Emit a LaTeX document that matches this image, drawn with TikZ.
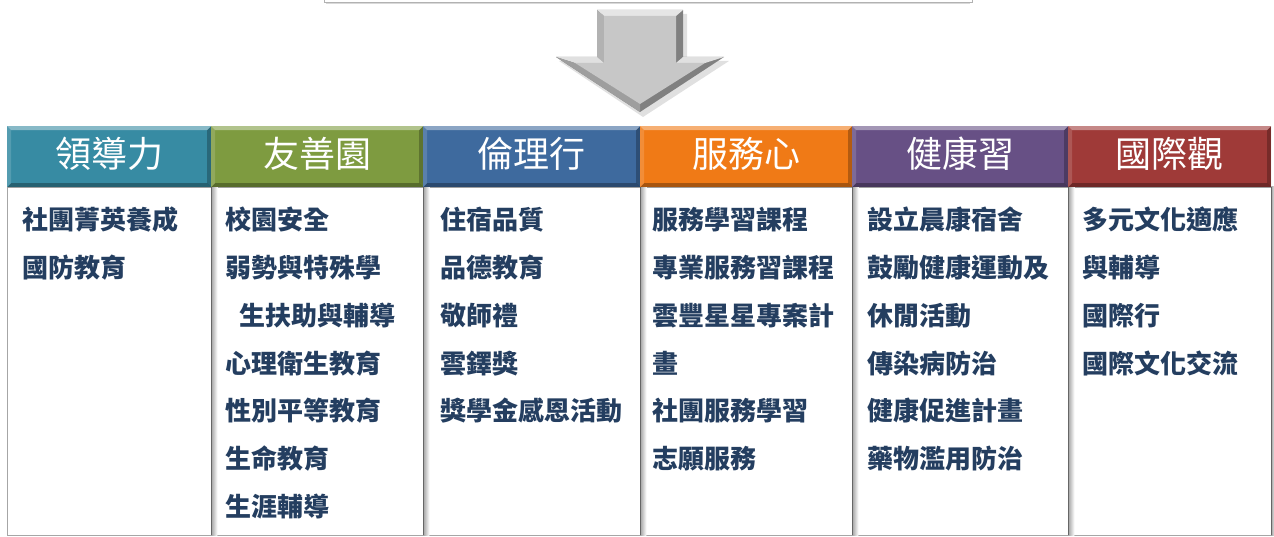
\documentclass[tikz,border=0pt]{standalone}
\usepackage{fontspec}
\newfontfamily\cjk{Noto Sans CJK TC}
\usetikzlibrary{positioning}

\definecolor{lead}{RGB}{55,139,163}
\definecolor{friend}{RGB}{126,155,64}
\definecolor{ethic}{RGB}{62,106,158}
\definecolor{serve}{RGB}{240,122,22}
\definecolor{health}{RGB}{103,80,133}
\definecolor{intl}{RGB}{159,58,56}
\definecolor{ink}{RGB}{36,62,96}

\tikzset{
  hdr/.style 2 args={fill=#2, minimum width=#1, minimum height=61, inner sep=0,
    anchor=north west, text=white, text height=29, text depth=7,
    font=\cjk\fontsize{36}{40}\selectfont,
    path picture={
      \coordinate (nw) at (path picture bounding box.north west);
      \coordinate (se) at (path picture bounding box.south east);
      \fill[white,opacity=.4] (nw) -- (nw -| se) -- ([shift={(-4,4)}]nw -| se) -- ([shift={(4,4)}]nw) -- cycle;
      \fill[white,opacity=.15] (nw) -- (se -| nw) -- ([shift={(4,-4)}]se -| nw) -- ([shift={(4,4)}]nw) -- cycle;
      \fill[black,opacity=.25] (se) -- (se |- nw) -- ([shift={(-4,4)}]se |- nw) -- ([shift={(-4,-4)}]se) -- cycle;
      \fill[black,opacity=.3] (se) -- (se -| nw) -- ([shift={(4,-4)}]se -| nw) -- ([shift={(-4,-4)}]se) -- cycle;
    }},
  col/.style={fill=white, draw=black!35, minimum width=#1, minimum height=348,
    inner sep=0, anchor=north west},
  sep/.style={draw=black!60, line width=1.3pt},
  entry/.style={anchor=base west, inner sep=0, text=ink,
    font=\cjk\bfseries\fontsize{26}{30}\selectfont}
}

\begin{document}
\begin{tikzpicture}[x=1pt, y=-1pt]
  \useasboundingbox (0,0) rectangle (1274,537);

  % box above the arrow
  \fill[black!15] (326,1) rectangle (970,4.5);
  \filldraw[fill=white, draw=black!30] (324,-10) rectangle (972,2);

  % arrow
  \fill[black,opacity=.12] (600,14) -- (687,14) -- (687,61) -- (729,61) -- (643,117) -- (559,61) -- (600,61) -- cycle;
  \fill[black!50] (597,10) -- (683,10) -- (683,57) -- (724,57) -- (640,112) -- (556,57) -- (597,57) -- cycle;
  \fill[black!10] (597,10) -- (683,10) -- (676,16) -- (604,16) -- cycle;
  \fill[black!30] (597,10) -- (604,16) -- (604,63) -- (597,57) -- cycle;
  \fill[black!12] (597,57) -- (604,63) -- (575,63) -- (556,57) -- cycle;
  \fill[black!12] (683,57) -- (724,57) -- (705,63) -- (676,63) -- cycle;
  \fill[black!38] (556,57) -- (575,63) -- (640,104) -- (640,112) -- cycle;
  \fill[black!22] (604,16) -- (676,16) -- (676,63) -- (705,63) -- (640,104) -- (575,63) -- (604,63) -- cycle;

  % column bodies
  \node[col=204] (leadcol) at (7,187) {};
  \node[col=212] (friendcol) at (211,187) {};
  \node[col=217] (ethiccol) at (423,187) {};
  \node[col=212] (servecol) at (640,187) {};
  \node[col=216] (healthcol) at (852,187) {};
  \node[col=203] (intlcol) at (1068,187) {};

  % separators with soft shadow
  \shade[left color=black!35, right color=white] (leadcol.north east) rectangle ([xshift=6pt]leadcol.south east);
  \shade[left color=black!35, right color=white] (friendcol.north east) rectangle ([xshift=6pt]friendcol.south east);
  \shade[left color=black!35, right color=white] (ethiccol.north east) rectangle ([xshift=6pt]ethiccol.south east);
  \shade[left color=black!35, right color=white] (servecol.north east) rectangle ([xshift=6pt]servecol.south east);
  \shade[left color=black!35, right color=white] (healthcol.north east) rectangle ([xshift=6pt]healthcol.south east);
  \shade[left color=black!35, right color=white] (intlcol.north east) rectangle ([xshift=4pt]intlcol.south east);
  \draw[sep] (leadcol.north east) -- (leadcol.south east);
  \draw[sep] (friendcol.north east) -- (friendcol.south east);
  \draw[sep] (ethiccol.north east) -- (ethiccol.south east);
  \draw[sep] (servecol.north east) -- (servecol.south east);
  \draw[sep] (healthcol.north east) -- (healthcol.south east);
  \draw[sep] (intlcol.north east) -- (intlcol.south east);

  % headers
  \node[hdr={204}{lead}] (leadhd) at (7,126) {領導力};
  \node[hdr={212}{friend}] (friendhd) at (211,126) {友善園};
  \node[hdr={217}{ethic}] (ethichd) at (423,126) {倫理行};
  \node[hdr={212}{serve}] (servehd) at (640,126) {服務心};
  \node[hdr={216}{health}] (healthhd) at (852,126) {健康習};
  \node[hdr={203}{intl}] (intlhd) at (1068,126) {國際觀};

  % entries
  \node[entry] (a1) at (22,230) {社團菁英養成};
  \node[entry] (a2) at (22,277.7) {國防教育};

  \node[entry] (b1) at (225,230) {校園安全};
  \node[entry] (b2) at (225,277.7) {弱勢與特殊學};
  \node[entry] (b3) at (239,325.4) {生扶助與輔導};
  \node[entry] (b4) at (225,373.1) {心理衛生教育};
  \node[entry] (b5) at (225,420.8) {性別平等教育};
  \node[entry] (b6) at (225,468.5) {生命教育};
  \node[entry] (b7) at (225,516.2) {生涯輔導};

  \node[entry] (c1) at (440,230) {住宿品質};
  \node[entry] (c2) at (440,277.7) {品德教育};
  \node[entry] (c3) at (440,325.4) {敬師禮};
  \node[entry] (c4) at (440,373.1) {雲鐸獎};
  \node[entry] (c5) at (440,420.8) {獎學金感恩活動};

  \node[entry] (d1) at (652,230) {服務學習課程};
  \node[entry] (d2) at (652,277.7) {專業服務習課程};
  \node[entry] (d3) at (652,325.4) {雲豐星星專案計};
  \node[entry] (d4) at (652,373.1) {畫};
  \node[entry] (d5) at (652,420.8) {社團服務學習};
  \node[entry] (d6) at (652,468.5) {志願服務};

  \node[entry] (e1) at (867,230) {設立晨康宿舍};
  \node[entry] (e2) at (867,277.7) {鼓勵健康運動及};
  \node[entry] (e3) at (867,325.4) {休閒活動};
  \node[entry] (e4) at (867,373.1) {傳染病防治};
  \node[entry] (e5) at (867,420.8) {健康促進計畫};
  \node[entry] (e6) at (867,468.5) {藥物濫用防治};

  \node[entry] (f1) at (1082,230) {多元文化適應};
  \node[entry] (f2) at (1082,277.7) {與輔導};
  \node[entry] (f3) at (1082,325.4) {國際行};
  \node[entry] (f4) at (1082,373.1) {國際文化交流};
\end{tikzpicture}
\end{document}
